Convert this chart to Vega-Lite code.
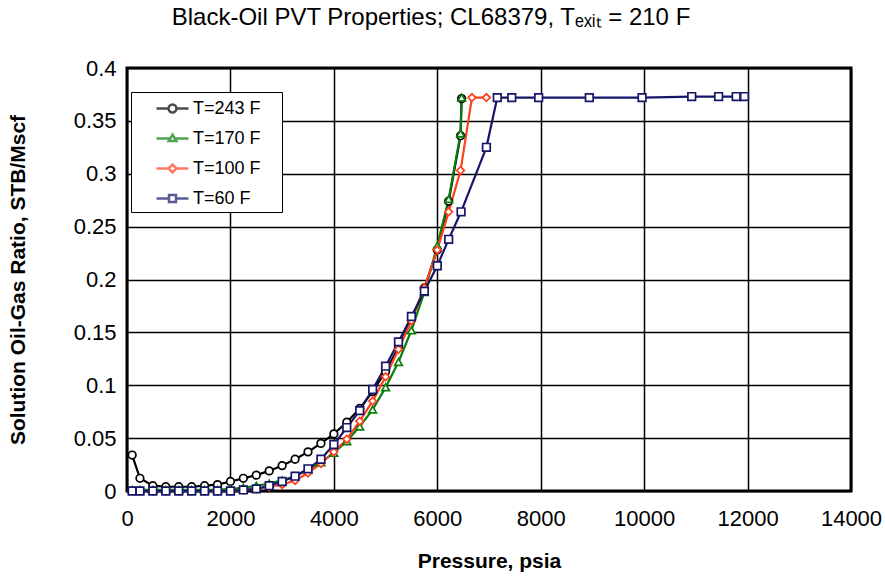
{
  "$schema": "https://vega.github.io/schema/vega-lite/v6.json",
  "autosize": "none",
  "width": 724,
  "height": 423,
  "padding": {"left": 127, "top": 68, "right": 34, "bottom": 92},
  "background": "white",
  "title": {
    "text": "Black-Oil PVT Properties; CL68379, Tₑₓᵢₜ = 210 F",
    "font": "Liberation Sans",
    "fontSize": 24,
    "fontWeight": "normal",
    "color": "black",
    "anchor": "middle",
    "frame": "group",
    "dx": -58,
    "offset": 27
  },
  "config": {
    "font": "Liberation Sans",
    "view": {"stroke": "black", "strokeWidth": 3},
    "axis": {
      "labelFont": "Liberation Sans",
      "labelFontSize": 22,
      "labelColor": "black",
      "titleFont": "Liberation Sans",
      "titleFontSize": 21,
      "titleFontWeight": "bold",
      "titleColor": "black",
      "gridColor": "black",
      "gridWidth": 1.5,
      "gridOpacity": 1,
      "domain": false,
      "ticks": false
    }
  },
  "data": {
    "values": [
      {"s": "T=243 F", "p": 100, "r": 0.034}, {"s": "T=243 F", "p": 250, "r": 0.012}, {"s": "T=243 F", "p": 500, "r": 0.005}, {"s": "T=243 F", "p": 750, "r": 0.004}, {"s": "T=243 F", "p": 1000, "r": 0.004}, {"s": "T=243 F", "p": 1250, "r": 0.004}, {"s": "T=243 F", "p": 1500, "r": 0.005}, {"s": "T=243 F", "p": 1750, "r": 0.006}, {"s": "T=243 F", "p": 2000, "r": 0.009}, {"s": "T=243 F", "p": 2250, "r": 0.012}, {"s": "T=243 F", "p": 2500, "r": 0.015}, {"s": "T=243 F", "p": 2750, "r": 0.019}, {"s": "T=243 F", "p": 3000, "r": 0.024}, {"s": "T=243 F", "p": 3250, "r": 0.030}, {"s": "T=243 F", "p": 3500, "r": 0.037}, {"s": "T=243 F", "p": 3750, "r": 0.045}, {"s": "T=243 F", "p": 4000, "r": 0.054}, {"s": "T=243 F", "p": 4250, "r": 0.065}, {"s": "T=243 F", "p": 4500, "r": 0.078}, {"s": "T=243 F", "p": 4750, "r": 0.094}, {"s": "T=243 F", "p": 5000, "r": 0.113}, {"s": "T=243 F", "p": 5250, "r": 0.136}, {"s": "T=243 F", "p": 5500, "r": 0.162}, {"s": "T=243 F", "p": 5750, "r": 0.192}, {"s": "T=243 F", "p": 6000, "r": 0.228}, {"s": "T=243 F", "p": 6220, "r": 0.274}, {"s": "T=243 F", "p": 6450, "r": 0.336}, {"s": "T=243 F", "p": 6470, "r": 0.371},

      {"s": "T=170 F", "p": 100, "r": 0.001}, {"s": "T=170 F", "p": 250, "r": 0.001}, {"s": "T=170 F", "p": 500, "r": 0.001}, {"s": "T=170 F", "p": 750, "r": 0.001}, {"s": "T=170 F", "p": 1000, "r": 0.001}, {"s": "T=170 F", "p": 1250, "r": 0.001}, {"s": "T=170 F", "p": 1500, "r": 0.001}, {"s": "T=170 F", "p": 1750, "r": 0.001}, {"s": "T=170 F", "p": 2000, "r": 0.002}, {"s": "T=170 F", "p": 2250, "r": 0.003}, {"s": "T=170 F", "p": 2500, "r": 0.005}, {"s": "T=170 F", "p": 2750, "r": 0.007}, {"s": "T=170 F", "p": 3000, "r": 0.010}, {"s": "T=170 F", "p": 3250, "r": 0.014}, {"s": "T=170 F", "p": 3500, "r": 0.020}, {"s": "T=170 F", "p": 3750, "r": 0.027}, {"s": "T=170 F", "p": 4000, "r": 0.036}, {"s": "T=170 F", "p": 4250, "r": 0.047}, {"s": "T=170 F", "p": 4500, "r": 0.061}, {"s": "T=170 F", "p": 4750, "r": 0.077}, {"s": "T=170 F", "p": 5000, "r": 0.098}, {"s": "T=170 F", "p": 5250, "r": 0.122}, {"s": "T=170 F", "p": 5500, "r": 0.152}, {"s": "T=170 F", "p": 5750, "r": 0.188}, {"s": "T=170 F", "p": 6000, "r": 0.232}, {"s": "T=170 F", "p": 6220, "r": 0.276}, {"s": "T=170 F", "p": 6450, "r": 0.338}, {"s": "T=170 F", "p": 6470, "r": 0.372},

      {"s": "T=100 F", "p": 100, "r": 0.0}, {"s": "T=100 F", "p": 250, "r": 0.0}, {"s": "T=100 F", "p": 500, "r": 0.0}, {"s": "T=100 F", "p": 750, "r": 0.0}, {"s": "T=100 F", "p": 1000, "r": 0.0}, {"s": "T=100 F", "p": 1250, "r": 0.0}, {"s": "T=100 F", "p": 1500, "r": 0.0}, {"s": "T=100 F", "p": 1750, "r": 0.0}, {"s": "T=100 F", "p": 2000, "r": 0.0}, {"s": "T=100 F", "p": 2250, "r": 0.001}, {"s": "T=100 F", "p": 2500, "r": 0.002}, {"s": "T=100 F", "p": 2750, "r": 0.004}, {"s": "T=100 F", "p": 3000, "r": 0.006}, {"s": "T=100 F", "p": 3250, "r": 0.010}, {"s": "T=100 F", "p": 3500, "r": 0.017}, {"s": "T=100 F", "p": 3750, "r": 0.026}, {"s": "T=100 F", "p": 4000, "r": 0.037}, {"s": "T=100 F", "p": 4250, "r": 0.049}, {"s": "T=100 F", "p": 4500, "r": 0.066}, {"s": "T=100 F", "p": 4750, "r": 0.085}, {"s": "T=100 F", "p": 5000, "r": 0.108}, {"s": "T=100 F", "p": 5250, "r": 0.134}, {"s": "T=100 F", "p": 5500, "r": 0.161}, {"s": "T=100 F", "p": 5750, "r": 0.192}, {"s": "T=100 F", "p": 6000, "r": 0.228}, {"s": "T=100 F", "p": 6220, "r": 0.264}, {"s": "T=100 F", "p": 6450, "r": 0.303}, {"s": "T=100 F", "p": 6670, "r": 0.372}, {"s": "T=100 F", "p": 6950, "r": 0.372},

      {"s": "T=60 F", "p": 100, "r": 0.0}, {"s": "T=60 F", "p": 250, "r": 0.0}, {"s": "T=60 F", "p": 500, "r": 0.0}, {"s": "T=60 F", "p": 750, "r": 0.0}, {"s": "T=60 F", "p": 1000, "r": 0.0}, {"s": "T=60 F", "p": 1250, "r": 0.0}, {"s": "T=60 F", "p": 1500, "r": 0.0}, {"s": "T=60 F", "p": 1750, "r": 0.0}, {"s": "T=60 F", "p": 2000, "r": 0.0}, {"s": "T=60 F", "p": 2250, "r": 0.001}, {"s": "T=60 F", "p": 2500, "r": 0.002}, {"s": "T=60 F", "p": 2750, "r": 0.005}, {"s": "T=60 F", "p": 3000, "r": 0.009}, {"s": "T=60 F", "p": 3250, "r": 0.014}, {"s": "T=60 F", "p": 3500, "r": 0.021}, {"s": "T=60 F", "p": 3750, "r": 0.030}, {"s": "T=60 F", "p": 4000, "r": 0.044}, {"s": "T=60 F", "p": 4250, "r": 0.060}, {"s": "T=60 F", "p": 4500, "r": 0.076}, {"s": "T=60 F", "p": 4750, "r": 0.096}, {"s": "T=60 F", "p": 5000, "r": 0.118}, {"s": "T=60 F", "p": 5250, "r": 0.141}, {"s": "T=60 F", "p": 5500, "r": 0.165}, {"s": "T=60 F", "p": 5750, "r": 0.189}, {"s": "T=60 F", "p": 6000, "r": 0.213}, {"s": "T=60 F", "p": 6220, "r": 0.238}, {"s": "T=60 F", "p": 6460, "r": 0.264}, {"s": "T=60 F", "p": 6950, "r": 0.325}, {"s": "T=60 F", "p": 7160, "r": 0.372}, {"s": "T=60 F", "p": 7440, "r": 0.372}, {"s": "T=60 F", "p": 7960, "r": 0.372}, {"s": "T=60 F", "p": 8940, "r": 0.372}, {"s": "T=60 F", "p": 9960, "r": 0.372}, {"s": "T=60 F", "p": 10920, "r": 0.373}, {"s": "T=60 F", "p": 11440, "r": 0.373}, {"s": "T=60 F", "p": 11780, "r": 0.373}, {"s": "T=60 F", "p": 11940, "r": 0.373}
    ]
  },
  "encoding": {
    "x": {
      "field": "p", "type": "quantitative",
      "scale": {"domain": [0, 14000], "nice": false, "zero": false},
      "axis": {"values": [0, 2000, 4000, 6000, 8000, 10000, 12000, 14000], "format": "d", "title": "Pressure, psia", "labelPadding": 17, "titlePadding": 21, "labelFlush": false}
    },
    "y": {
      "field": "r", "type": "quantitative",
      "scale": {"domain": [0, 0.4], "nice": false},
      "axis": {"values": [0, 0.05, 0.1, 0.15, 0.2, 0.25, 0.3, 0.35, 0.4], "format": ".2~f", "title": "Solution Oil-Gas Ratio, STB/Mscf", "labelPadding": 11, "titleX": -109, "titleBaseline": "middle", "labelFlush": false}
    }
  },
  "layer": [
    {
      "mark": {"type": "line", "strokeWidth": 2.2},
      "encoding": {
        "color": {"field": "s", "type": "nominal", "legend": null,
          "scale": {"domain": ["T=243 F", "T=170 F", "T=100 F", "T=60 F"], "range": ["#000000", "#0a7d0a", "#ff4020", "#15156a"]}},
        "order": {"field": "p", "type": "quantitative"}
      }
    },
    {
      "mark": {"type": "point", "filled": false, "fill": "white", "strokeWidth": 1.7, "opacity": 1, "size": 58},
      "encoding": {
        "color": {"field": "s", "type": "nominal", "legend": null,
          "scale": {"domain": ["T=243 F", "T=170 F", "T=100 F", "T=60 F"], "range": ["#000000", "#0a7d0a", "#ff4020", "#15156a"]}},
        "shape": {"field": "s", "type": "nominal", "legend": null,
          "scale": {"domain": ["T=243 F", "T=170 F", "T=100 F", "T=60 F"], "range": ["circle", "triangle-up", "diamond", "square"]}}
      }
    },
    {
      "transform": [{"filter": "datum.p < 0"}],
      "mark": {"type": "point", "filled": false, "fill": "white", "strokeWidth": 2.5},
      "encoding": {
        "color": {"field": "s", "type": "nominal",
          "scale": {"domain": ["T=243 F", "T=170 F", "T=100 F", "T=60 F"], "range": ["#000000", "#0a7d0a", "#ff4020", "#15156a"]},
          "legend": {
            "title": "xx", "titleOrient": "right", "titleColor": "white", "titleFontSize": 10, "titlePadding": 5,
            "orient": "none", "legendX": 4, "legendY": 24,
            "fillColor": "white", "strokeColor": "black",
            "padding": 4, "symbolOffset": 25, "labelOffset": 8, "rowPadding": 8,
            "symbolSize": 484, "symbolStrokeWidth": 2.5, "symbolFillColor": "white",
            "labelFont": "Liberation Sans", "labelFontSize": 18, "labelColor": "black",
            "encode": {
              "symbols": {"update": {"fill": {"value": "white"}, "opacity": {"value": 1}}},
              "legend": {"update": {"strokeWidth": {"value": 1.5}}}
            }
          }
        },
        "shape": {"field": "s", "type": "nominal",
          "scale": {"domain": ["T=243 F", "T=170 F", "T=100 F", "T=60 F"], "range": [
            "M-1.45,0H-0.36M0.36,0H1.45M-0.36,0A0.36,0.36,0,1,0,0.36,0A0.36,0.36,0,1,0,-0.36,0Z",
            "M-1.45,0H-0.19M0.19,0H1.45M0,-0.34L0.34,0.22L-0.34,0.22Z",
            "M-1.45,0H-0.36M0.36,0H1.45M0,-0.36L0.36,0L0,0.36L-0.36,0Z",
            "M-1.45,0H-0.32M0.32,0H1.45M-0.32,-0.32H0.32V0.32H-0.32Z"
          ]},
          "legend": {
            "title": "xx", "titleOrient": "right", "titleColor": "white", "titleFontSize": 10, "titlePadding": 5,
            "orient": "none", "legendX": 4, "legendY": 24,
            "fillColor": "white", "strokeColor": "black",
            "padding": 4, "symbolOffset": 25, "labelOffset": 8, "rowPadding": 8,
            "symbolSize": 484, "symbolStrokeWidth": 2.5, "symbolFillColor": "white",
            "labelFont": "Liberation Sans", "labelFontSize": 18, "labelColor": "black",
            "encode": {
              "symbols": {"update": {"fill": {"value": "white"}, "opacity": {"value": 1}}},
              "legend": {"update": {"strokeWidth": {"value": 1.5}}}
            }
          }
        }
      }
    }
  ],
  "resolve": {"scale": {"color": "independent", "shape": "independent"}}
}
